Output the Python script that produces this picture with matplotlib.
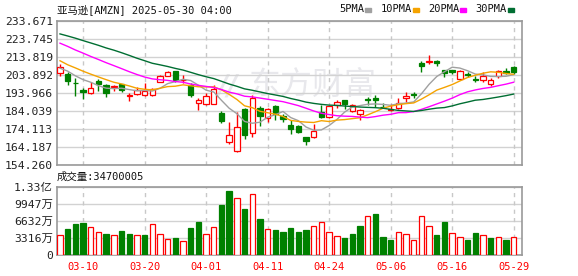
import numpy as np
import pandas as pd
import matplotlib
matplotlib.use("Agg")
import matplotlib.pyplot as plt

# 29 closes before the first visible day (needed for the moving averages)
hist_close = [235.01, 235.42, 234.85, 235.42, 238.15, 237.07, 234.64, 237.68,
              237.42, 242.06, 236.17, 238.83, 229.15, 233.14, 232.76, 228.93,
              230.37, 228.68, 226.65, 226.63, 222.88, 216.58, 212.71, 212.80,
              214.35, 208.74, 212.28, 205.02, 203.80]

dates = ["03-05", "03-06", "03-07", "03-10", "03-11", "03-12", "03-13", "03-14",
         "03-17", "03-18", "03-19", "03-20", "03-21", "03-24", "03-25", "03-26",
         "03-27", "03-28", "03-31", "04-01", "04-02", "04-03", "04-04", "04-07",
         "04-08", "04-09", "04-10", "04-11", "04-14", "04-15", "04-16", "04-17",
         "04-21", "04-22", "04-23", "04-24", "04-25", "04-28", "04-29", "04-30",
         "05-01", "05-02", "05-05", "05-06", "05-07", "05-08", "05-09", "05-12",
         "05-13", "05-14", "05-15", "05-16", "05-19", "05-20", "05-21", "05-22",
         "05-23", "05-27", "05-28", "05-29"]

opens = [204.80, 204.40, 199.49, 195.60, 193.90, 200.72, 198.17, 197.41,
         198.77, 192.52, 193.38, 193.07, 192.90, 200.00, 203.60, 205.84,
         200.89, 198.42, 188.19, 187.86, 187.66, 183.00, 167.15, 162.00,
         185.23, 172.12, 185.44, 179.93, 186.84, 181.41, 176.29, 176.00,
         169.60, 169.85, 183.45, 180.92, 187.62, 190.10, 183.99, 182.17,
         190.63, 191.44, 186.51, 184.57, 185.56, 191.43, 193.37, 210.71,
         211.08, 211.45, 206.45, 206.85, 201.65, 204.63, 201.61, 201.38,
         198.90, 203.09, 205.92, 208.03]
highs = [209.98, 205.77, 202.27, 196.73, 200.18, 201.52, 198.88, 198.65,
         199.00, 194.00, 197.00, 199.32, 196.99, 203.64, 206.21, 206.01,
         203.79, 199.26, 191.33, 193.93, 198.34, 184.13, 178.14, 183.41,
         185.90, 192.65, 186.87, 185.86, 187.44, 182.35, 179.10, 176.21,
         169.60, 176.78, 187.38, 186.74, 189.94, 190.22, 188.02, 185.05,
         191.81, 192.88, 188.18, 187.93, 190.99, 194.33, 194.69, 211.66,
         214.84, 211.93, 206.88, 206.85, 206.62, 205.59, 203.46, 205.76,
         202.37, 206.69, 207.66, 208.81]
lows = [203.26, 198.30, 192.53, 190.85, 193.40, 195.29, 191.82, 195.32,
        194.32, 189.38, 192.96, 192.30, 192.52, 199.95, 203.22, 199.93,
        199.28, 191.88, 184.40, 187.20, 187.66, 177.41, 166.00, 161.38,
        168.57, 169.93, 175.85, 178.00, 179.23, 177.93, 171.41, 172.00,
        165.29, 169.35, 180.19, 180.18, 185.49, 184.89, 183.68, 178.85,
        187.50, 186.40, 185.53, 183.85, 185.01, 188.82, 191.16, 205.75,
        210.10, 208.85, 202.67, 204.37, 201.26, 202.65, 200.06, 200.16,
        197.85, 202.19, 204.41, 204.23]
closes = [208.36, 200.70, 199.25, 194.54, 196.59, 198.89, 193.89, 197.95,
          195.74, 192.82, 195.54, 194.95, 196.21, 203.26, 205.71, 201.13,
          201.36, 192.72, 190.26, 192.17, 196.01, 178.41, 171.00, 175.26,
          170.66, 191.10, 181.22, 184.87, 182.12, 179.59, 174.33, 172.61,
          167.32, 173.18, 180.60, 186.54, 188.99, 187.70, 187.39, 184.42,
          190.20, 189.98, 186.35, 185.01, 188.71, 192.08, 193.06, 208.64,
          211.37, 210.25, 205.17, 205.59, 206.16, 204.07, 201.12, 203.10,
          200.99, 206.02, 204.72, 205.70]
# volume in millions of shares
volumes = [38.6, 50.8, 60.4, 62.4, 54.0, 44.4, 41.2, 38.6, 46.9, 41.2,
           38.6, 39.2, 59.8, 40.5, 31.5, 33.4, 27.6, 52.7, 64.3, 40.5,
           54.0, 96.5, 123.5, 110.0, 89.4, 117.7, 69.4, 50.2, 48.9, 45.0,
           52.7, 45.0, 48.9, 55.9, 63.7, 44.4, 36.7, 33.4, 41.2, 56.6,
           75.2, 79.7, 35.4, 30.2, 44.4, 40.5, 29.6, 75.2, 55.9, 39.2,
           64.3, 42.4, 34.7, 30.2, 42.4, 38.6, 33.4, 34.7, 30.2, 34.7]

price_ticks = ["154.260", "164.187", "174.113", "184.039", "193.966",
               "203.892", "213.819", "223.745", "233.671"]
vol_ticks = [0, 33.16, 66.32, 99.47, 132.63]
vol_labels = ["0", "3316万", "6632万", "9947万", "1.33亿"]
date_ticks = ["03-10", "03-20", "04-01", "04-11", "04-24", "05-06", "05-16", "05-29"]

ma_list = [(5, "5PMA", "#a0a0a0"), (10, "10PMA", "#f5a300"),
           (20, "20PMA", "#ff00ff"), (30, "30PMA", "#006e32")]

RED = "#ff0000"
GREEN = "#008000"
FONT = ["DejaVu Sans Mono", "Noto Sans CJK SC"]
plt.rcParams["font.family"] = FONT

W, H = 578, 276
fig = plt.figure(figsize=(W / 100, H / 100), dpi=100)
ax = fig.add_axes([57 / W, 1 - 165 / H, 465 / W, 144 / H])
axv = fig.add_axes([57 / W, 1 - 255.3 / H, 465 / W, 68.6 / H])

o = np.array(opens)
c = np.array(closes)
x = np.arange(len(dates))
up = c >= o
cols = np.where(up, RED, GREEN)

# moving averages
all_close = pd.Series(hist_close + closes)
for n, name, col in ma_list:
    ma = all_close.rolling(n).mean().iloc[len(hist_close):].values
    ax.plot(x, ma, color=col, lw=1, zorder=5)

# candles
ax.vlines(x, lows, highs, colors=cols, lw=1, zorder=3)
ax.bar(x, np.maximum(np.abs(c - o), 0.01), bottom=np.minimum(o, c), width=0.7,
       facecolor=np.where(up, "white", GREEN), edgecolor=cols, lw=0.9, zorder=4)

# volume coloured by change from the previous close
prev = np.array([hist_close[-1]] + closes[:-1])
vup = c >= prev
vcols = np.where(vup, RED, GREEN)
axv.bar(x, volumes, width=0.7, facecolor=np.where(vup, "white", GREEN),
        edgecolor=vcols, lw=0.9, zorder=3)

# faint watermark
ax.text(32.9, 197.8, "东方财富", fontsize=23, color="#e8e8ec", ha="center",
        va="center", zorder=0, family="Noto Sans CJK SC")
ax.text(21.8, 197.8, "//", fontsize=20, color="#e8e8ec", ha="center",
        va="center", zorder=0, style="italic", weight="bold", family="DejaVu Sans")

pt = [float(t) for t in price_ticks]
ax.set_ylim(pt[0], pt[-1])
axv.set_ylim(0, vol_ticks[-1])
tick_idx = [dates.index(d) for d in date_ticks]
for a, yt, yl in [(ax, pt, price_ticks), (axv, vol_ticks, vol_labels)]:
    a.set_xlim(-0.39, 60.08)
    a.set_yticks(yt)
    a.set_yticklabels(yl, fontsize=8.2, color="#222222")
    a.set_xticks(tick_idx)
    a.tick_params(length=0, pad=3)
    a.grid(axis="y", color="#d2d2d2", lw=1, zorder=1)
    for t in tick_idx:
        a.axvline(t, color="#c8c8c8", lw=1, ls=(0, (3, 3)), zorder=1)
    for s in a.spines.values():
        s.set_color("#999999")
        s.set_linewidth(1.2)
    a.set_axisbelow(True)
ax.set_xticklabels([])
axv.set_xticklabels(date_ticks, fontsize=7.5, color=RED)
axv.tick_params(axis="x", pad=5)

fig.text(57 / W, 1 - 10 / H, "亚马逊[AMZN] 2025-05-30 04:00", fontsize=7.5,
         va="center", color="#111111")
fig.text(57 / W, 1 - 177 / H, "成交量:34700005", fontsize=7.5,
         va="center", color="#111111")

lx = 339
for n, name, col in ma_list:
    t = fig.text(lx / W, 1 - 9 / H, name, fontsize=7.5, va="center", color="#111111")
    tw = len(name) * 6.1
    fig.patches.append(plt.Rectangle(((lx + tw + 2) / W, 1 - 11.5 / H), 6 / W, 4 / H,
                                     transform=fig.transFigure, color=col))
    lx += tw + 17

fig.savefig("out.png", dpi=100)
